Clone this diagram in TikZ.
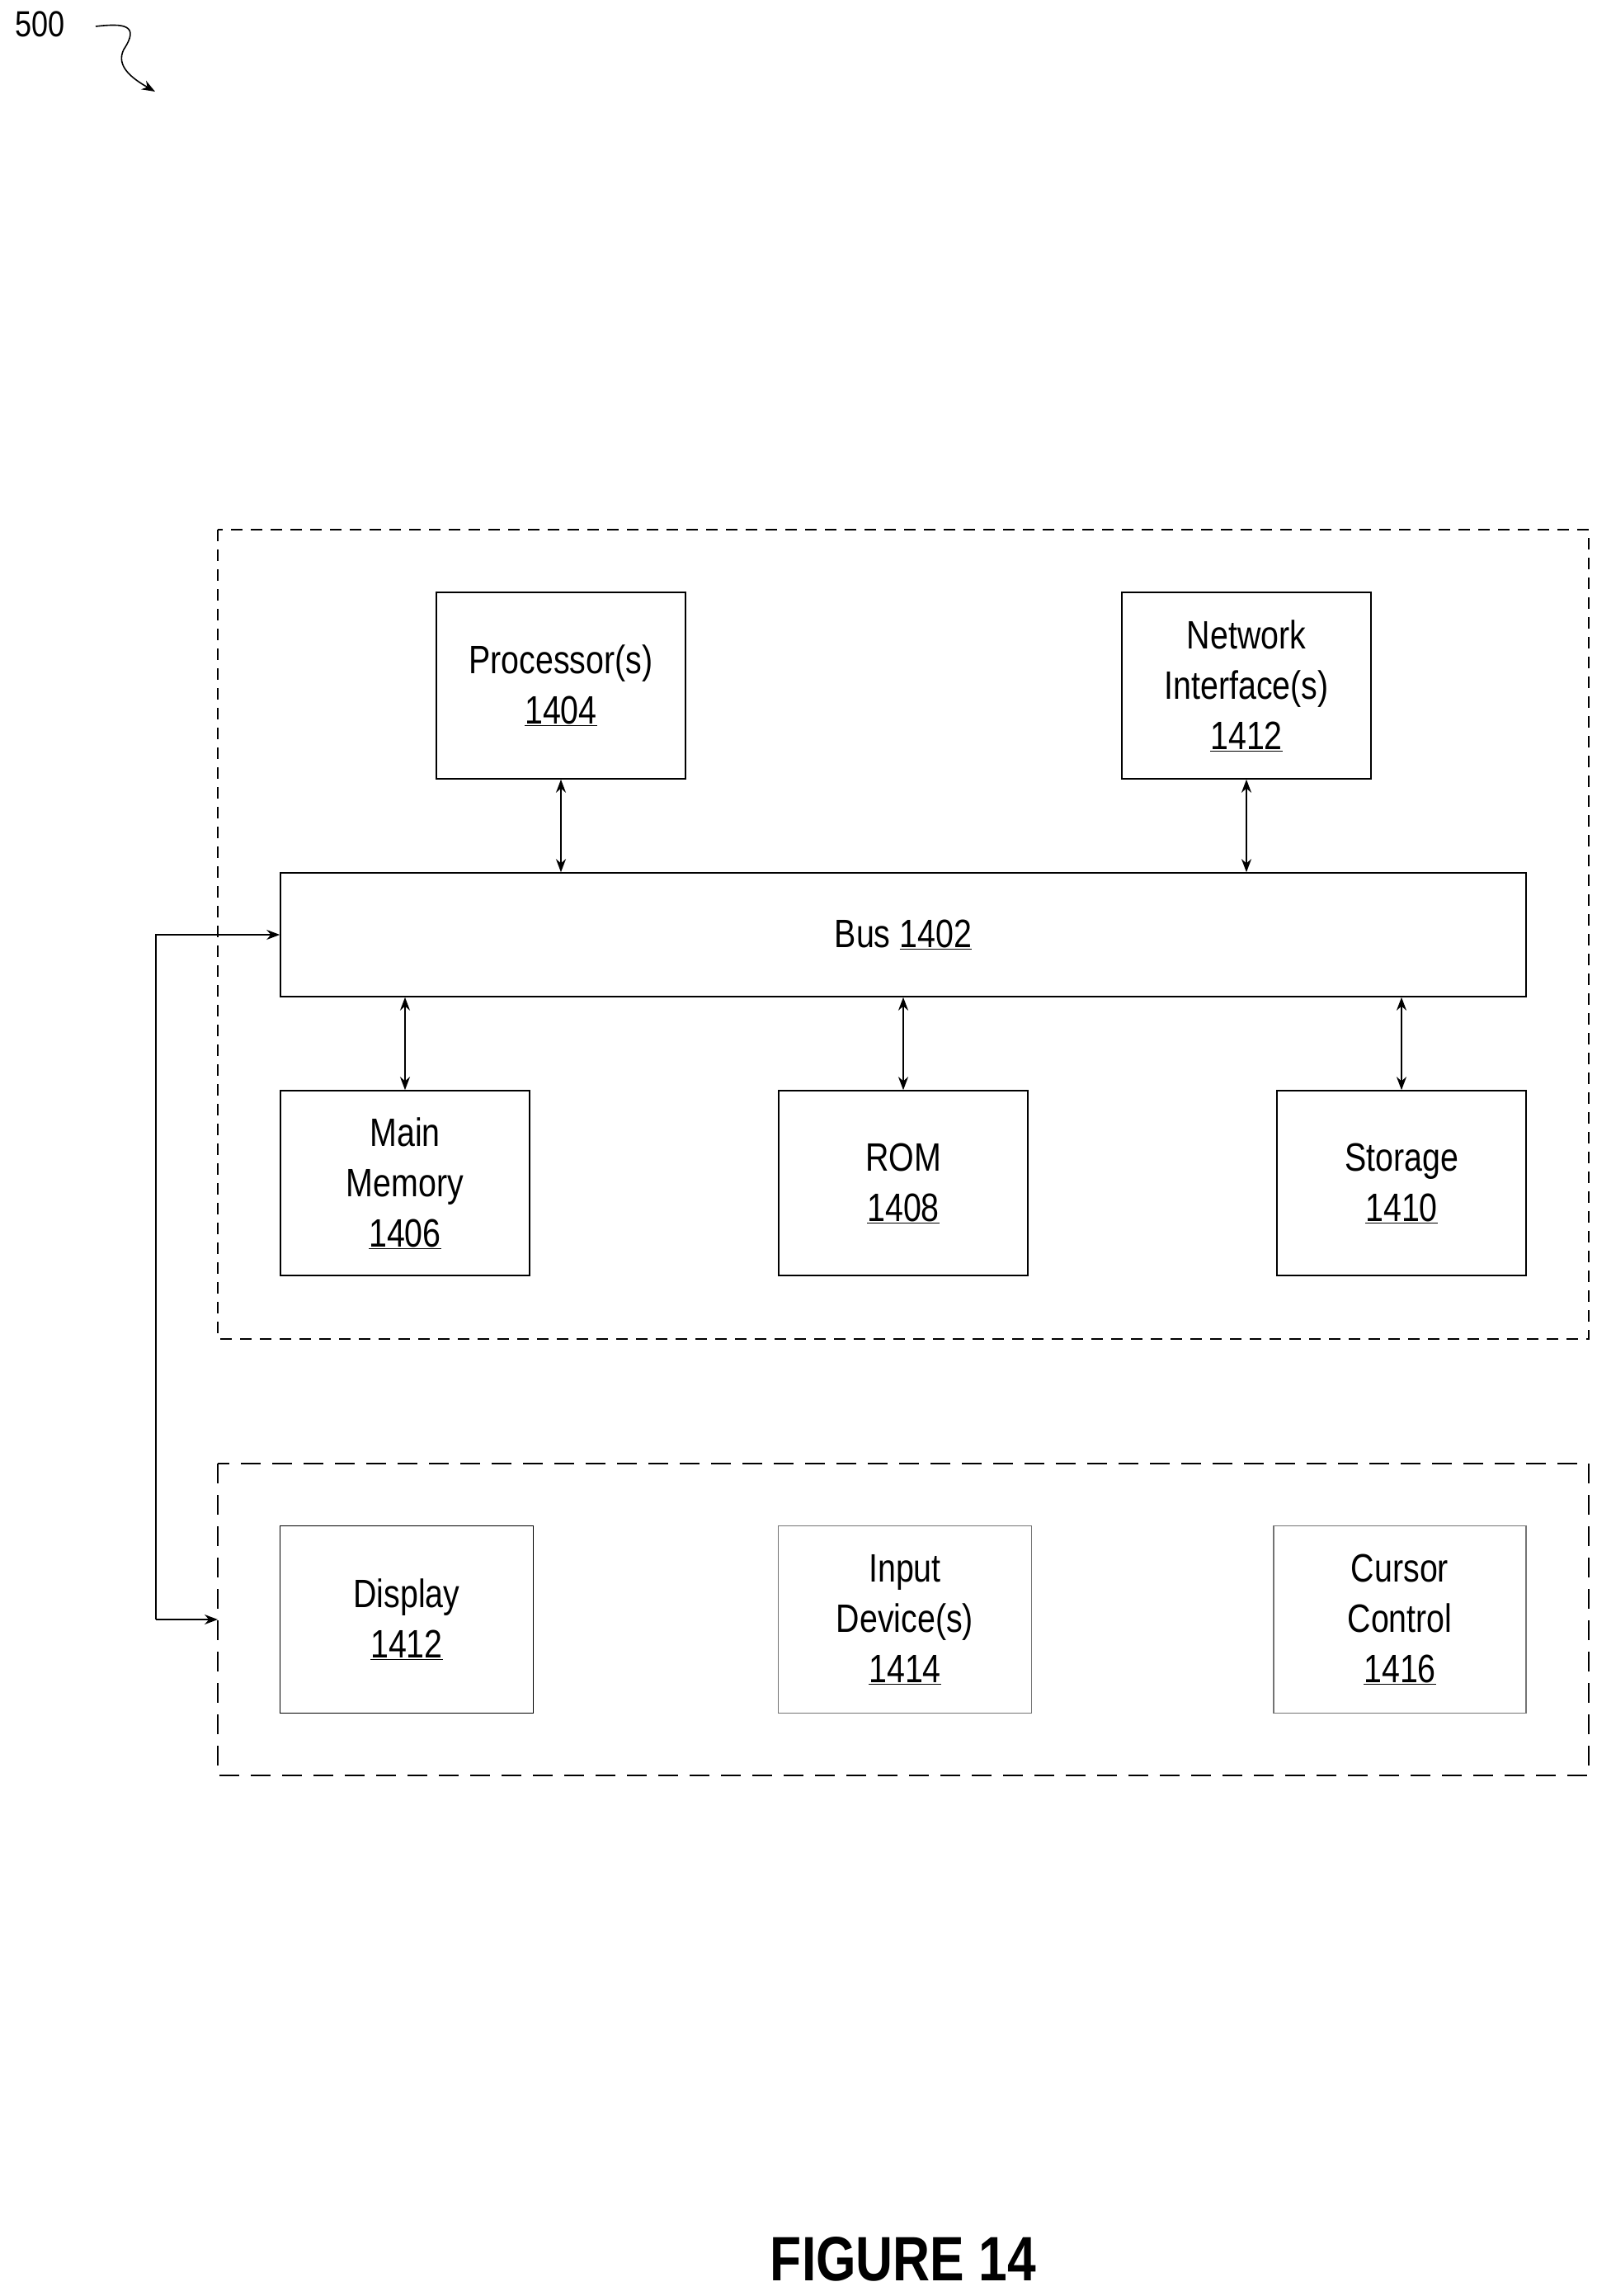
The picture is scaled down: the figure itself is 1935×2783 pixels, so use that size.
\documentclass[tikz,border=0pt]{standalone}
\usepackage{fontspec}
\setmainfont{Liberation Sans}[FakeStretch=0.82]
\usetikzlibrary{arrows.meta}
\begin{document}
\begin{tikzpicture}[x=1pt,y=-1pt,
  box/.style={draw,line width=1.6pt,align=center,font=\fontsize{48}{61}\selectfont},
  lbox/.style={box,draw=black!55},
  dash1/.style={draw,line width=1.6pt,dash pattern=on 14pt off 10pt},
  dash2/.style={draw,line width=2.4pt,dash pattern=on 24pt off 14pt},
  conn/.style={line width=2pt,{Stealth[length=16pt,width=12pt]}-{Stealth[length=16pt,width=12pt]}},
  one/.style={line width=1.6pt,-{Stealth[length=16pt,width=12pt]}}]
\useasboundingbox (0,0) rectangle (1935,2783);
\node[anchor=north west,inner sep=0,font=\fontsize{44}{50}\selectfont] (lbl) at (18,14) {500};
\coordinate (sq1) at (116,32);
\coordinate (sq2) at (188,111);
\draw[line width=1.6pt,-{Stealth[length=16pt,width=12pt]}] (sq1) .. controls (150,28) and (170,30) .. (150,60) .. controls (140,80) and (160,95) .. (sq2);
\path[dash1] (264,642) rectangle (1926,1623);
\path[dash2] (264,1774) rectangle (1926,2152);
\node[box,minimum width=302pt,minimum height=226pt] (proc) at (680,831) {Processor(s)\\\underline{1404}};
\node[box,minimum width=302pt,minimum height=226pt] (net) at (1511,831) {Network\\Interface(s)\\\underline{1412}};
\node[box,minimum width=1510pt,minimum height=150pt] (bus) at (1095,1133) {Bus \underline{1402}};
\node[box,minimum width=302pt,minimum height=224pt] (mem) at (491,1434) {Main\\Memory\\\underline{1406}};
\node[box,minimum width=302pt,minimum height=224pt] (rom) at (1095,1434) {ROM\\\underline{1408}};
\node[box,minimum width=302pt,minimum height=224pt] (sto) at (1699,1434) {Storage\\\underline{1410}};
\node[box,minimum width=307pt,minimum height=227pt] (disp) at (493,1963) {Display\\\underline{1412}};
\node[lbox,minimum width=307pt,minimum height=227pt] (inp) at (1097,1963) {Input\\Device(s)\\\underline{1414}};
\node[lbox,minimum width=306pt,minimum height=227pt] (cur) at (1697,1963) {Cursor\\Control\\\underline{1416}};
\coordinate (io) at (264,1963);
\draw[conn] (proc.south) -- (proc.south |- bus.north);
\draw[conn] (net.south) -- (net.south |- bus.north);
\draw[conn] (mem.north |- bus.south) -- (mem.north);
\draw[conn] (rom.north |- bus.south) -- (rom.north);
\draw[conn] (sto.north |- bus.south) -- (sto.north);
\coordinate (lft) at (189,1963);
\draw[one] (lft) -- (lft |- bus.west) -- (bus.west);
\draw[one] (lft) -- (io);
\node[font=\bfseries\fontsize{76}{80}\selectfont] (fig) at (1095,2738) {FIGURE 14};
\end{tikzpicture}
\end{document}
